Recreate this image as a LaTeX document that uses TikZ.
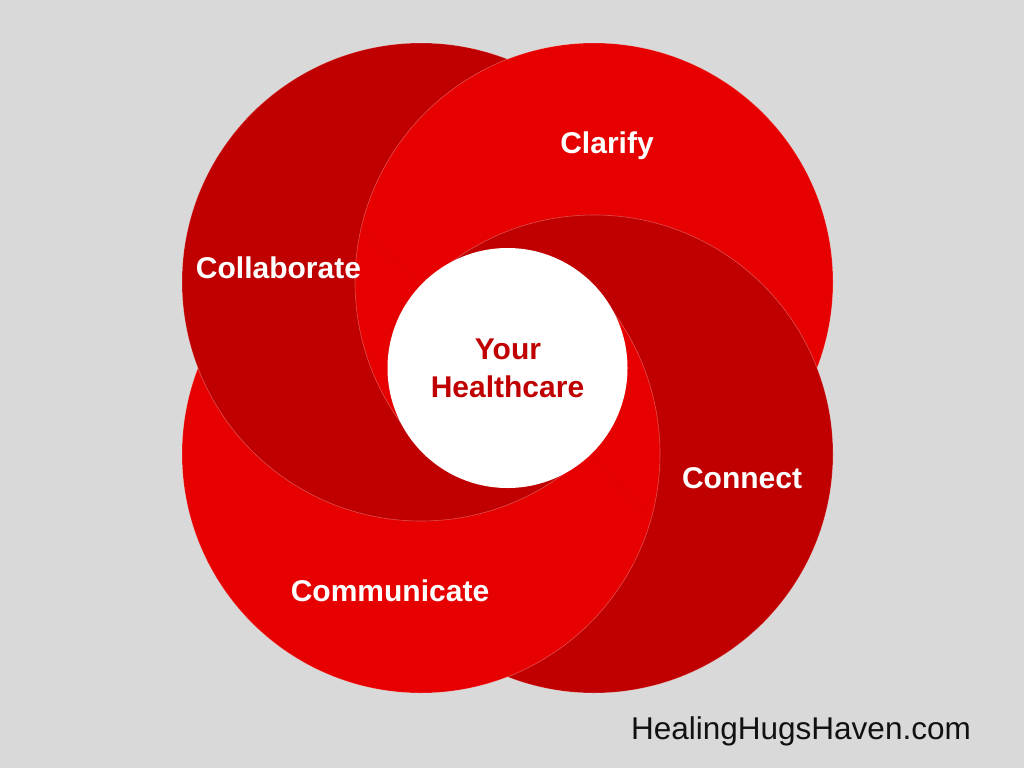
\documentclass[tikz,border=0pt]{standalone}
\usepackage{fontspec}
\setmainfont{Liberation Sans}
\definecolor{dred}{HTML}{C00000}
\definecolor{bred}{HTML}{E60000}
\definecolor{bgc}{HTML}{D9D9D9}
\definecolor{sitec}{HTML}{111111}
\newcommand\DiscCollab{\filldraw[disc, fill=dred] (cA) circle[radius=239];}
\newcommand\DiscClarify{\filldraw[disc, fill=bred] (cB) circle[radius=239];}
\newcommand\DiscConnect{\filldraw[disc, fill=dred] (cC) circle[radius=239];}
\newcommand\DiscCommun{\filldraw[disc, fill=bred] (cD) circle[radius=239];}
\begin{document}
\begin{tikzpicture}[x=1pt,y=-1pt,
  disc/.style={line width=0.6pt, draw=white, draw opacity=0.3},
  lbl/.style={anchor=base, text=white, inner sep=0pt, font=\bfseries\fontsize{30}{36}\selectfont}]
\fill[bgc] (0,0) rectangle (1024,768);
\useasboundingbox (0,0) rectangle (1024,768);
\coordinate (W) at (507.5,368);
\coordinate (cA) at (421,282);  % Collaborate
\coordinate (cB) at (594,282);  % Clarify
\coordinate (cC) at (594,454);  % Connect
\coordinate (cD) at (421,454);  % Communicate
% bottom sector
\begin{scope}
  \clip (W) -- ++(1250,1200) -- ++(-2500,0) -- cycle;
  \DiscClarify \DiscConnect \DiscCommun \DiscCollab
\end{scope}
% left sector
\begin{scope}
  \clip (W) -- ++(-1200,1250) -- ++(0,-2500) -- cycle;
  \DiscConnect \DiscCommun \DiscCollab \DiscClarify
\end{scope}
% top sector
\begin{scope}
  \clip (W) -- ++(-1250,-1200) -- ++(2500,0) -- cycle;
  \DiscCommun \DiscCollab \DiscClarify \DiscConnect
\end{scope}
% right sector
\begin{scope}
  \clip (W) -- ++(1200,-1250) -- ++(0,2500) -- cycle;
  \DiscCollab \DiscClarify \DiscConnect \DiscCommun
\end{scope}
% centre
\node[circle, fill=white, minimum size=240, inner sep=0pt] (hub) at (W) {};
\node[anchor=base, text=dred, inner sep=0pt, font=\bfseries\fontsize{30}{36}\selectfont] (your) at (508,359) {Your};
\node[anchor=base, text=dred, inner sep=0pt, font=\bfseries\fontsize{30}{36}\selectfont] (health) at (507.5,397.5) {Healthcare};
% labels
\node[lbl] (lClarify) at (607,153) {Clarify};
\node[lbl] (lCollab) at (278.5,278) {Collaborate};
\node[lbl] (lConnect) at (742,488) {Connect};
\node[lbl] (lCommun) at (390,601.5) {Communicate};
\node[anchor=base, inner sep=0pt, text=sitec, font=\fontsize{31.5}{36}\selectfont] (site) at (801,739) {HealingHugsHaven.com};
\end{tikzpicture}
\end{document}
